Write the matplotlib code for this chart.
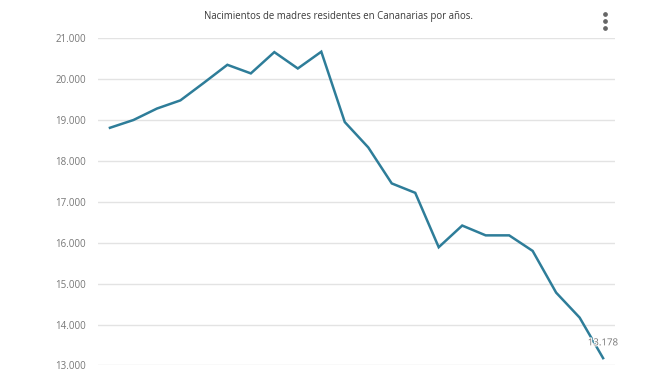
import matplotlib
matplotlib.use("Agg")
import matplotlib.pyplot as plt
import matplotlib.patheffects as pe
from matplotlib.lines import Line2D

# nacimientos por año
years = list(range(1996, 2018))
births = [18810, 19000, 19280, 19480, 19910, 20350, 20140, 20660, 20260, 20670,
          18950, 18330, 17450, 17220, 15890, 16420, 16180, 16180, 15800, 14780,
          14170, 13178]
y_ticks = [13000, 14000, 15000, 16000, 17000, 18000, 19000, 20000, 21000]
y_labels = ["13.000", "14.000", "15.000", "16.000", "17.000", "18.000",
            "19.000", "20.000", "21.000"]
title = "Nacimientos de madres residentes en Cananarias por años."
last_label = "13.178"

plt.rcParams['font.family'] = ['Open Sans', 'DejaVu Sans']

fig = plt.figure(figsize=(6.59, 3.71), dpi=100)
ax = fig.add_axes([0.149, 0.015, 0.784, 0.882])

ax.plot(years, births, color="#2e7d99", lw=1.8, solid_joinstyle="miter", zorder=3)

ax.set_xlim(years[0] - 0.5, years[-1] + 0.5)
ax.set_ylim(13000, 21000)
ax.set_yticks(y_ticks)
ax.set_yticklabels(y_labels, fontsize=7, color="#777777")
ax.set_xticks([])
ax.tick_params(axis="y", length=0, pad=9)
ax.grid(axis="y", color="#e3e3e3", lw=1)
for s in ax.spines.values():
    s.set_visible(False)

ax.annotate(last_label, (years[-1], births[-1]), xytext=(0, 11),
            textcoords="offset points", ha="center", va="center",
            fontsize=7, color="#777777", zorder=4,
            path_effects=[pe.withStroke(linewidth=1.5, foreground="white")])

fig.text(0.513, 0.955, title, ha="center", va="center", fontsize=6.9, color="#3a3a3a")

# menu icon
for yy in [14, 21, 28]:
    fig.add_artist(Line2D([605 / 659], [1 - yy / 371], marker="o", markersize=2.4,
                          color="#666666", transform=fig.transFigure))

fig.savefig("out.png", dpi=100)
